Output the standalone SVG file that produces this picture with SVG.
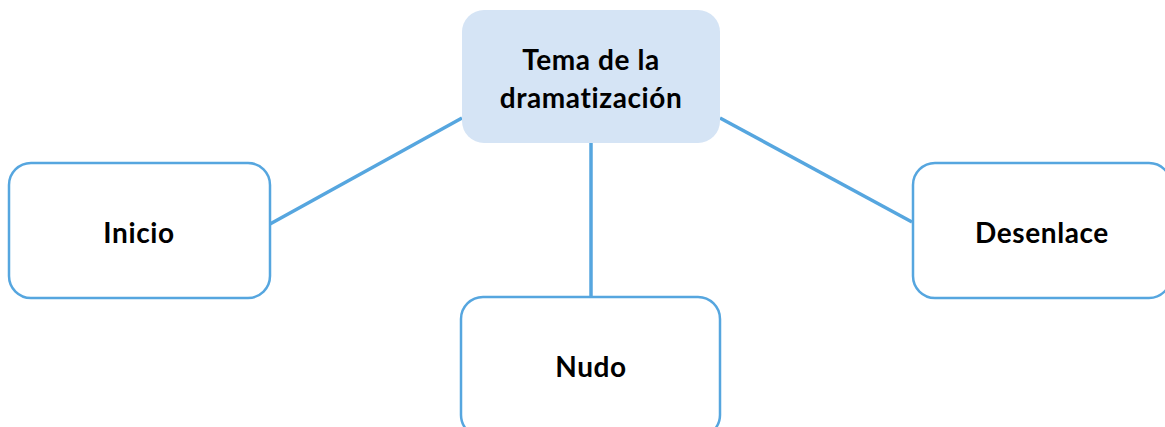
<svg xmlns="http://www.w3.org/2000/svg" width="1165" height="427" viewBox="0 0 1165 427">
<style>
.box{fill:#ffffff;stroke:#56a6df;stroke-width:2.5}
.main{fill:#d5e4f5;stroke:none}
.t{font-family:Lato,"Open Sans","Liberation Sans",sans-serif;font-weight:bold;font-size:28px;letter-spacing:0.6px;fill:#000;text-anchor:middle}
.c{stroke:#56a6df;stroke-width:3.5;fill:none}
</style>
<rect width="1165" height="427" fill="#ffffff"/>
<g id="connectors">
<line class="c" x1="462" y1="118" x2="270" y2="224"/>
<line class="c" x1="720" y1="118" x2="912" y2="222"/>
<line class="c" x1="591" y1="143" x2="591" y2="297"/>
</g>
<g id="tema">
<rect class="main" x="462" y="10" width="258" height="133" rx="22"/>
<text class="t" x="591" y="70">Tema de la</text>
<text class="t" x="591" y="108">dramatización</text>
</g>
<g id="inicio">
<rect class="box" x="9" y="163" width="261" height="135" rx="22"/>
<text class="t" x="139" y="243">Inicio</text>
</g>
<g id="nudo">
<rect class="box" x="461" y="297" width="259" height="140" rx="22"/>
<text class="t" x="591" y="377">Nudo</text>
</g>
<g id="desenlace">
<rect class="box" x="913" y="163" width="258" height="135" rx="22"/>
<text class="t" x="1042" y="243">Desenlace</text>
</g>
</svg>
